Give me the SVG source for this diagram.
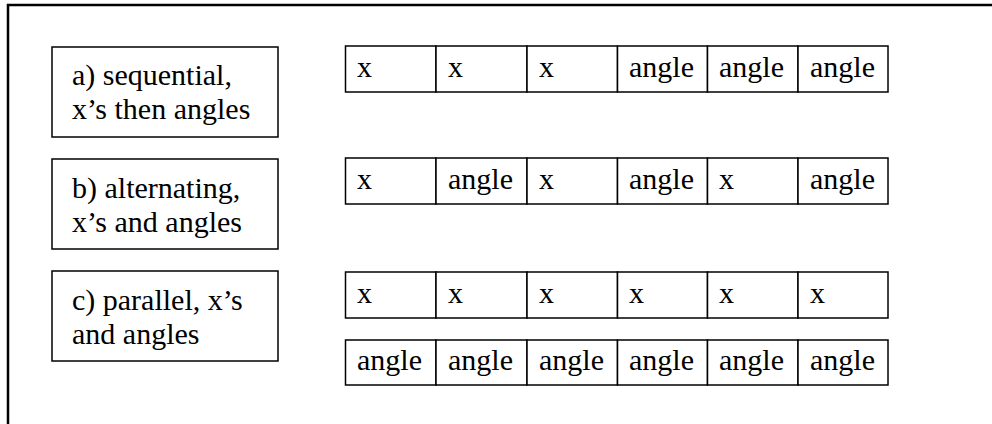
<svg xmlns="http://www.w3.org/2000/svg" width="992" height="424" viewBox="0 0 992 424">
<style>
.frame{fill:none;stroke:#000;stroke-width:2.5}
.box{fill:#fff;stroke:#000;stroke-width:1.5}
.t{font-family:"Liberation Serif","Times New Roman",serif;font-size:30px;fill:#000}
</style>
<rect width="992" height="424" fill="#fff"/>
<path class="frame" d="M8,424 V5 H992"/>
<g id="label-a"><rect class="box" x="52" y="47" width="226" height="90"/><text class="t" x="72" y="85">a) sequential,</text><text class="t" x="72" y="119">x’s then angles</text></g>
<g id="label-b"><rect class="box" x="52" y="159" width="226" height="90"/><text class="t" x="72" y="198">b) alternating,</text><text class="t" x="72" y="232">x’s and angles</text></g>
<g id="label-c"><rect class="box" x="52" y="271" width="226" height="90"/><text class="t" x="72" y="310">c) parallel, x’s</text><text class="t" x="72" y="344">and angles</text></g>
<g id="row-a">
<rect class="box" x="345.5" y="46" width="90.5" height="46"/><rect class="box" x="436" y="46" width="91" height="46"/><rect class="box" x="527" y="46" width="90.5" height="46"/><rect class="box" x="617.5" y="46" width="90" height="46"/><rect class="box" x="707.5" y="46" width="90.5" height="46"/><rect class="box" x="798" y="46" width="90" height="46"/>
<text class="t" x="357" y="77">x</text><text class="t" x="448" y="77">x</text><text class="t" x="539" y="77">x</text><text class="t" x="629" y="77">angle</text><text class="t" x="719" y="77">angle</text><text class="t" x="810" y="77">angle</text>
</g>
<g id="row-b">
<rect class="box" x="345.5" y="158" width="90.5" height="46"/><rect class="box" x="436" y="158" width="91" height="46"/><rect class="box" x="527" y="158" width="90.5" height="46"/><rect class="box" x="617.5" y="158" width="90" height="46"/><rect class="box" x="707.5" y="158" width="90.5" height="46"/><rect class="box" x="798" y="158" width="90" height="46"/>
<text class="t" x="357" y="189">x</text><text class="t" x="448" y="189">angle</text><text class="t" x="539" y="189">x</text><text class="t" x="629" y="189">angle</text><text class="t" x="719" y="189">x</text><text class="t" x="810" y="189">angle</text>
</g>
<g id="row-c-x">
<rect class="box" x="345.5" y="272" width="90.5" height="46"/><rect class="box" x="436" y="272" width="91" height="46"/><rect class="box" x="527" y="272" width="90.5" height="46"/><rect class="box" x="617.5" y="272" width="90" height="46"/><rect class="box" x="707.5" y="272" width="90.5" height="46"/><rect class="box" x="798" y="272" width="90" height="46"/>
<text class="t" x="357" y="303">x</text><text class="t" x="448" y="303">x</text><text class="t" x="539" y="303">x</text><text class="t" x="629" y="303">x</text><text class="t" x="719" y="303">x</text><text class="t" x="810" y="303">x</text>
</g>
<g id="row-c-angle">
<rect class="box" x="345.5" y="340" width="90.5" height="45"/><rect class="box" x="436" y="340" width="91" height="45"/><rect class="box" x="527" y="340" width="90.5" height="45"/><rect class="box" x="617.5" y="340" width="90" height="45"/><rect class="box" x="707.5" y="340" width="90.5" height="45"/><rect class="box" x="798" y="340" width="90" height="45"/>
<text class="t" x="357" y="370">angle</text><text class="t" x="448" y="370">angle</text><text class="t" x="539" y="370">angle</text><text class="t" x="629" y="370">angle</text><text class="t" x="719" y="370">angle</text><text class="t" x="810" y="370">angle</text>
</g>
<g id="connectors"/>
</svg>
